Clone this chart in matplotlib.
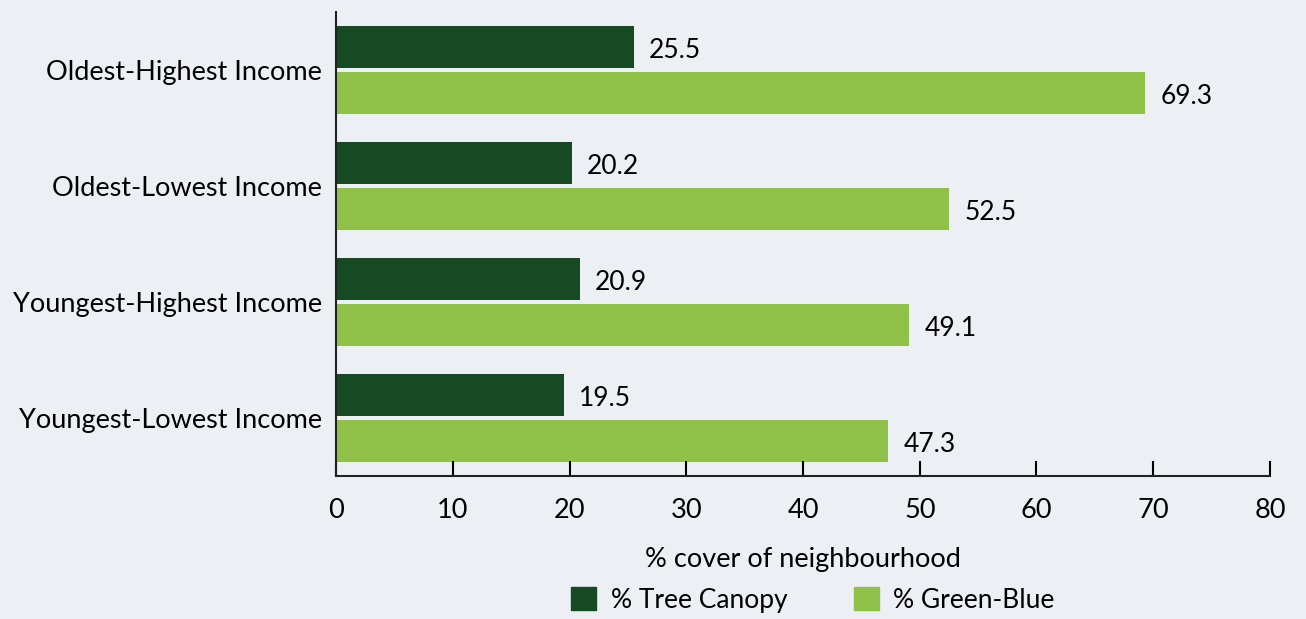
import numpy as np
import matplotlib.pyplot as plt
from matplotlib.patches import Patch

plt.rcParams['font.family'] = ['Lato', 'DejaVu Sans']

groups = ['Oldest-Highest Income', 'Oldest-Lowest Income',
          'Youngest-Highest Income', 'Youngest-Lowest Income']
tree_canopy = [25.5, 20.2, 20.9, 19.5]
green_blue = [69.3, 52.5, 49.1, 47.3]
series_names = ['% Tree Canopy', '% Green-Blue']

dark_green = '#154a23'
light_green = '#8fc047'
bg = '#ecf0f4'

fig = plt.figure(figsize=(13.06, 6.19), dpi=100, facecolor=bg)
ax = fig.add_axes([0.2573, 0.231, 0.7151, 0.7496], facecolor=bg)

y = np.arange(len(groups))
h = 0.362
off = 0.198
ax.barh(y - off, tree_canopy, height=h, color=dark_green)
ax.barh(y + off, green_blue, height=h, color=light_green)

# value labels just past the end of each bar
for yi, v in zip(y - off, tree_canopy):
    ax.text(v + 1.3, yi + 0.03, f'{v:.1f}', va='center', ha='left', fontsize=19)
for yi, v in zip(y + off, green_blue):
    ax.text(v + 1.3, yi + 0.03, f'{v:.1f}', va='center', ha='left', fontsize=19)

ax.set_ylim(3.5, -0.5)
ax.set_xlim(0, 80)
ax.set_xticks(range(0, 81, 10))
ax.set_yticks(y)
ax.set_yticklabels(groups, fontsize=19.5)
ax.tick_params(axis='x', direction='in', length=11, width=1.5, labelsize=19.5, pad=16)
ax.tick_params(axis='y', length=0, pad=10)

for s in ['top', 'right']:
    ax.spines[s].set_visible(False)
for s in ['left', 'bottom']:
    ax.spines[s].set_linewidth(1.5)
    ax.spines[s].set_color('#222222')

ax.set_xlabel('% cover of neighbourhood', fontsize=19.5, labelpad=17)

handles = [Patch(color=dark_green), Patch(color=light_green)]
fig.legend(handles, series_names, loc='center', bbox_to_anchor=(0.6225, 0.031),
           ncol=2, frameon=False, fontsize=19, handlelength=0.95, handleheight=0.95,
           columnspacing=2.5, handletextpad=0.55, borderpad=0, borderaxespad=0)

fig.savefig('out.png', dpi=100, facecolor=bg)
